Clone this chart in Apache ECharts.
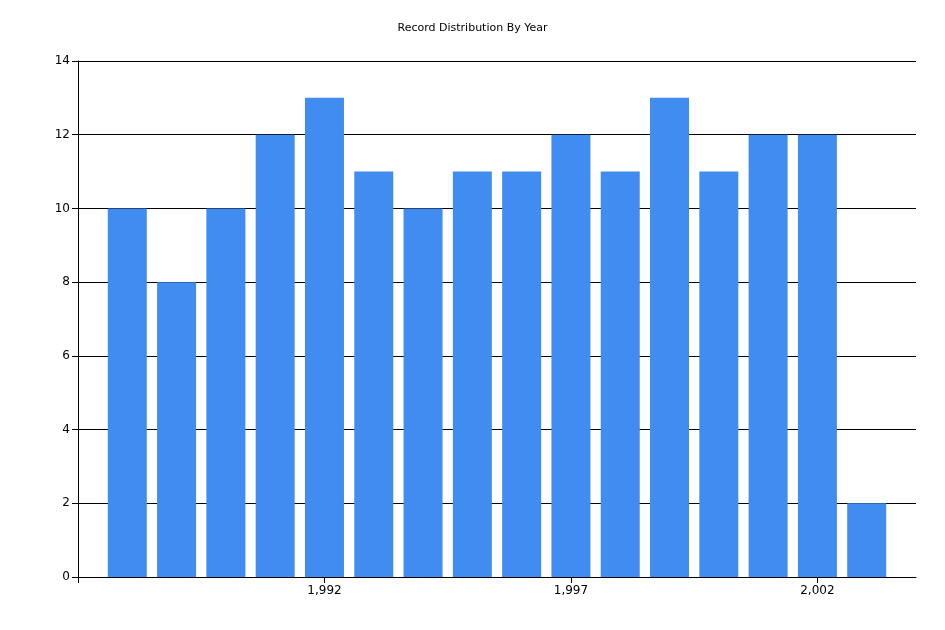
<!DOCTYPE html>
<html>
<head>
<meta charset="utf-8">
<script src="https://cdn.jsdelivr.net/npm/echarts@6/dist/echarts.min.js"></script>
<style>html,body{margin:0;background:#fff}#chart{width:945px;height:630px}</style>
</head>
<body>
<div id="chart"></div>
<script>
const years = [1988, 1989, 1990, 1991, 1992, 1993, 1994, 1995, 1996, 1997, 1998, 1999, 2000, 2001, 2002, 2003];
const counts = [10, 8, 10, 12, 13, 11, 10, 11, 11, 12, 11, 13, 11, 12, 12, 2];
const yearLabels = [1992, 1997, 2002];

const chart = echarts.init(document.getElementById('chart'));
chart.setOption({
    animation: false,
    title: {
        text: 'Record Distribution By Year',
        left: 'center', top: 18,
        textStyle: { fontSize: 11, fontWeight: 'normal', color: '#000', fontFamily: 'DejaVu Sans' }
    },
    grid: { left: 78, right: 29, top: 61, bottom: 53 },
    xAxis: {
        type: 'value', min: 1987, max: 2004, interval: 1,
        splitLine: { show: false },
        axisLine: { lineStyle: { color: '#000' } },
        axisTick: { length: 6, lineStyle: { color: '#000' }, customValues: [1987].concat(yearLabels) },
        axisLabel: { color: '#000', fontSize: 12, fontFamily: 'DejaVu Sans', customValues: yearLabels }
    },
    yAxis: {
        type: 'value', min: 0, max: 14, interval: 2,
        axisLine: { show: true, lineStyle: { color: '#000' } },
        axisTick: { show: true, length: 6, lineStyle: { color: '#000' } },
        axisLabel: { color: '#000', fontSize: 12, fontFamily: 'DejaVu Sans' },
        splitLine: { lineStyle: { color: '#000' } }
    },
    series: [{
        type: 'bar',
        barWidth: 39,
        itemStyle: { color: '#418CF0' },
        data: years.map((y, i) => [y, counts[i]])
    }]
});
</script>
</body>
</html>
